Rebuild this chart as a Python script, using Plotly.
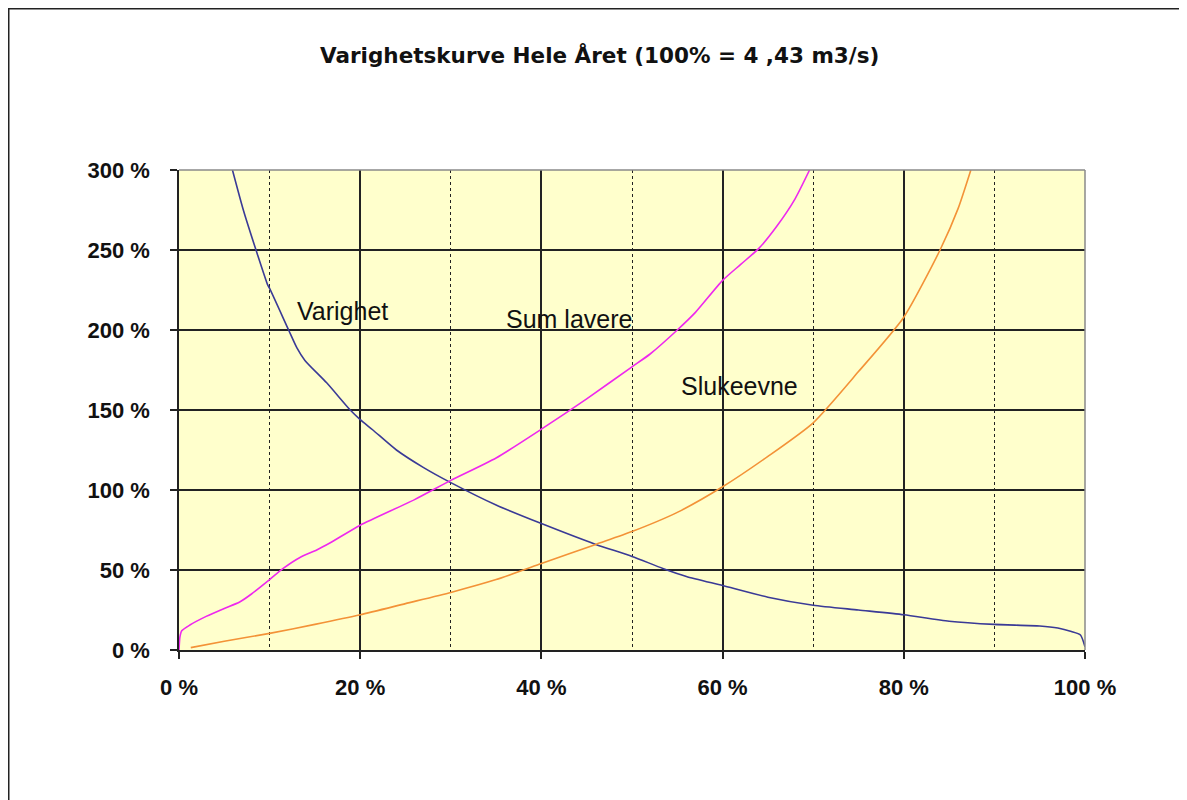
import plotly.graph_objects as go

# Varighet (duration curve)
var_x = [5.9, 7.1, 8.5, 9.8, 10, 12.1, 13, 13.9, 16.3, 18.9, 20, 21.4, 24, 27, 30, 35, 40, 46, 50, 53.4,
         56, 60, 65, 70, 75, 80, 85, 90, 95, 97, 98.5, 99.5, 100]
var_y = [300, 275, 250, 228, 226, 200, 189, 181, 167, 150, 144, 137.5, 125, 114, 104.6, 90.6, 79, 66, 58.5, 51,
         46, 40.3, 33, 28, 25, 22, 18, 16, 15, 13.7, 11.5, 9.4, 2]

# Sum lavere
sum_x = [0, 0.1, 0.3, 1.2, 3, 5, 6.7, 8, 10, 11.5, 13.4, 15.2, 16.7, 20, 26, 30, 35, 40, 45, 50, 52,
         55, 57, 60, 62, 64, 66, 68, 69.6]
sum_y = [0, 8, 12, 15.6, 21, 26, 30, 35, 44, 51, 58, 62.5, 67, 78, 94, 106, 120, 138, 157, 177, 185,
         200, 211, 231, 241, 251, 265, 282, 300]

# Slukeevne
sluk_x = [1.3, 5, 10, 15, 20, 25, 30, 35, 40, 46, 50, 55, 60, 65, 70, 75, 80, 84, 86, 87.4]
sluk_y = [1.5, 5.5, 10.4, 16, 22, 29, 36, 44, 54, 66, 74, 86, 102, 121, 142, 174, 208, 250, 276, 300]

x_ticks = [0, 20, 40, 60, 80, 100]
x_labels = ["0 %", "20 %", "40 %", "60 %", "80 %", "100 %"]
y_ticks = [0, 50, 100, 150, 200, 250, 300]
y_labels = ["0 %", "50 %", "100 %", "150 %", "200 %", "250 %", "300 %"]

title_text = "Varighetskurve Hele Året (100% = 4 ,43 m3/s)"
curve_labels = [("Varighet", 18.0, 212), ("Sum lavere", 43.0, 207), ("Slukeevne", 61.9, 165)]

# page has an 8px body margin; layout in figure pixels
OFF = 8
W, H = 1187, 800
L, R, T, B = 179 - OFF, W - (1085 - OFF), 170 - OFF, H - (650 - OFF)
pw, ph = W - L - R, H - T - B


def px2paper(px, py):
    # px, py are screenshot pixels
    return (px - OFF - L) / pw, (H - B - (py - OFF)) / ph


fig = go.Figure()
fig.add_trace(go.Scatter(x=var_x, y=var_y, mode="lines", line=dict(color="#3A3A96", width=1.6, shape="spline", smoothing=0.6),
                         name="Varighet", showlegend=False))
fig.add_trace(go.Scatter(x=sum_x, y=sum_y, mode="lines", line=dict(color="#EE28EE", width=1.6, shape="spline", smoothing=0.6),
                         name="Sum lavere", showlegend=False))
fig.add_trace(go.Scatter(x=sluk_x, y=sluk_y, mode="lines", line=dict(color="#F39237", width=1.6, shape="spline", smoothing=0.6),
                         name="Slukeevne", showlegend=False))

for txt, xx, yy in curve_labels:
    fig.add_annotation(x=xx, y=yy, text=txt, showarrow=False, xref="x", yref="y",
                       xanchor="center", yanchor="middle",
                       font=dict(family="Liberation Sans, Arial", size=25, color="#111111"))

tx, ty = px2paper(599, 55)
fig.add_annotation(x=tx, y=ty, xref="paper", yref="paper", text=title_text, showarrow=False,
                   xanchor="center", yanchor="middle",
                   font=dict(family="DejaVu Sans", size=21.5, color="#111111", weight="bold"))

# outer chart border
x0, y0 = px2paper(8.75, 830)
x1, y1 = px2paper(1230, 8.75)
fig.add_shape(type="rect", xref="paper", yref="paper", x0=x0, y0=y0, x1=x1, y1=y1,
              line=dict(color="#222222", width=1.5), fillcolor="rgba(0,0,0,0)", layer="below")
# gray top/right plot border
fig.add_shape(type="line", xref="paper", yref="paper", x0=0, y0=1, x1=1, y1=1,
              line=dict(color="#8A8A8A", width=1.5), layer="above")
fig.add_shape(type="line", xref="paper", yref="paper", x0=1, y0=0, x1=1, y1=1,
              line=dict(color="#8A8A8A", width=1.5), layer="above")

tickfont = dict(family="Liberation Sans, Arial", size=22, color="#111111", weight="bold")

fig.update_layout(
    width=W, height=H,
    margin=dict(l=L, r=R, t=T, b=B),
    paper_bgcolor="white",
    plot_bgcolor="#FFFFCC",
    showlegend=False,
)
fig.update_xaxes(
    range=[0, 100], tickvals=x_ticks, ticktext=x_labels, tickfont=tickfont,
    showline=True, linecolor="#222222", linewidth=1.5,
    ticks="outside", ticklen=7, tickwidth=1.5, tickcolor="#222222",
    showgrid=True, gridcolor="#222222", gridwidth=1.5, zeroline=False,
    ticklabelstandoff=10,
    minor=dict(dtick=10, tick0=0, showgrid=True, gridcolor="#222222", gridwidth=1,
               griddash="3px,3px", ticks=""),
)
fig.update_yaxes(
    range=[0, 300], tickvals=y_ticks, ticktext=y_labels, tickfont=tickfont,
    showline=True, linecolor="#222222", linewidth=1.5,
    ticks="outside", ticklen=7, tickwidth=1.5, tickcolor="#222222",
    showgrid=True, gridcolor="#222222", gridwidth=1.5, zeroline=False,
    ticklabelstandoff=16,
)

fig.write_html("out.html")
